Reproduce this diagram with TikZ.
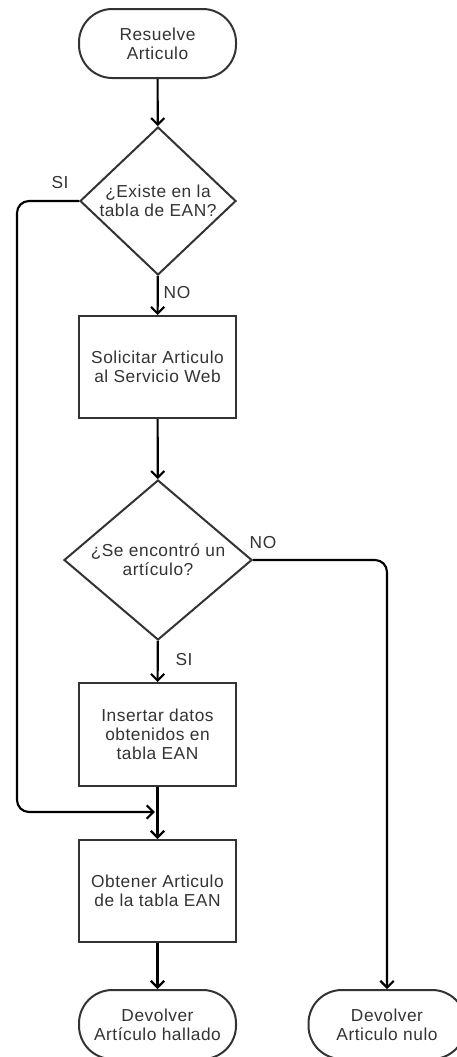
\documentclass[tikz,border=0pt]{standalone}
\usepackage{fontspec}
\setmainfont{Liberation Sans}[LetterSpace=3]
\usetikzlibrary{shapes.geometric, arrows.meta, positioning}

\definecolor{borde}{HTML}{333333}
\definecolor{texto}{HTML}{333333}

\tikzset{
  base/.style={draw=borde, line width=1.5pt, text=texto, align=center,
    font=\fontsize{13pt}{14.3pt}\selectfont, inner sep=0pt},
  term/.style={base, rectangle, rounded corners=25pt,
    minimum width=117.75pt, minimum height=51.75pt},
  proc/.style={base, rectangle, minimum width=117.75pt, minimum height=76.5pt},
  decis/.style={base, diamond, inner sep=0pt},
  flow/.style={line width=1.6pt, black, -{Straight Barb[length=5pt,width=10pt]}},
  etiq/.style={text=texto, font=\fontsize{13pt}{14.3pt}\selectfont, inner sep=0pt}
}

\begin{document}
\begin{tikzpicture}[x=0.75pt, y=-0.75pt]
\useasboundingbox (0,0) rectangle (457,1057);
\clip (0,0) rectangle (457,1057);

% nodos
\node[term] (inicio) at (157.5,43.5) {Resuelve\\Articulo};
\node[decis, aspect=1.05, minimum width=117pt, minimum height=111pt] (existe) at (158,201) {¿Existe en la\\tabla de EAN?};
\node[proc] (solicitar) at (157.5,367) {Solicitar Articulo\\al Servicio Web};
\node[decis, aspect=1.175, minimum width=141pt, minimum height=120pt] (encontro) at (158,560) {¿Se encontró un\\artículo?};
\node[proc, minimum height=77.25pt] (insertar) at (157.5,734.5) {Insertar datos\\obtenidos en\\tabla EAN};
\node[proc] (obtener) at (157.5,891) {Obtener Articulo\\de la tabla EAN};
\node[term] (hallado) at (157.5,1024.5) {Devolver\\Artículo hallado};
\node[term] (nulo) at (387,1024.5) {Devolver\\Articulo nulo};

\coordinate (union) at (157.5,812);
\coordinate (izq) at (17,812);

% conectores
\draw[flow] (inicio) -- (existe);
\draw[flow, rounded corners=9pt] (existe.west) -| (izq) -- ([xshift=-2pt]union);
\draw[flow] (existe) -- (solicitar);
\draw[flow] (solicitar) -- (encontro);
\draw[flow, rounded corners=9pt] (encontro.east) -| (nulo.north);
\draw[flow] (encontro) -- (insertar);
\draw[flow] (insertar) -- (obtener);
\draw[flow] (obtener) -- (hallado);

% etiquetas
\node[etiq] (si1) at (60,183) {SI};
\node[etiq] (no1) at (177,293) {NO};
\node[etiq] (no2) at (263,543) {NO};
\node[etiq] (si2) at (184,660) {SI};
\end{tikzpicture}
\end{document}
